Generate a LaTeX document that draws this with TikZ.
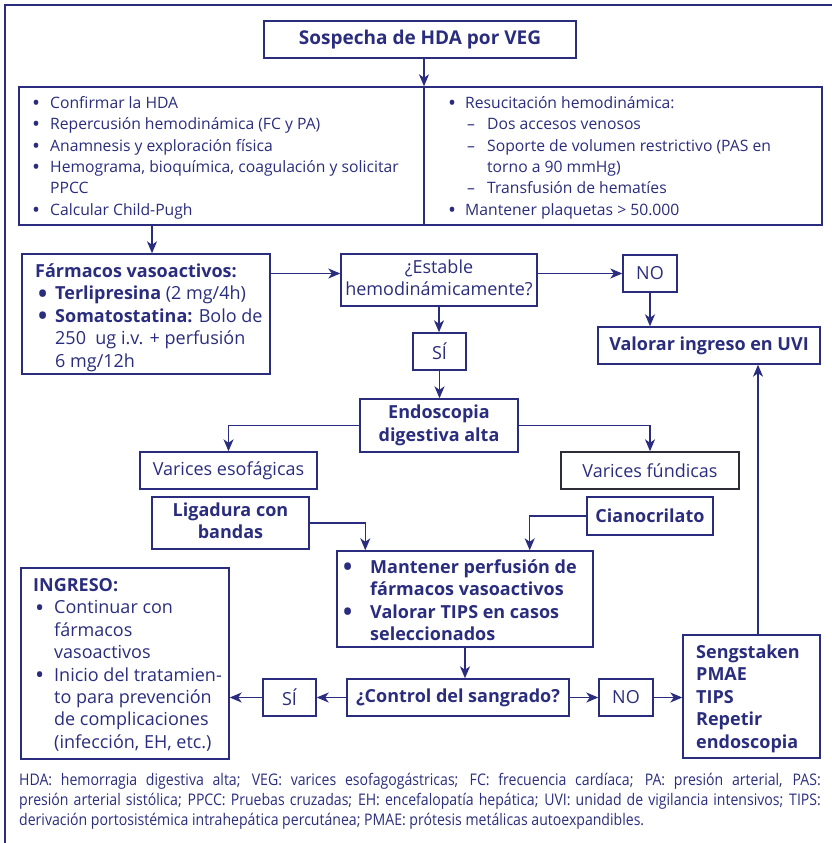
\documentclass[tikz,border=0pt]{standalone}
\usepackage{fontspec}
\setmainfont{Open Sans}
\usepackage{graphicx}
\usetikzlibrary{arrows.meta,calc}
\definecolor{navy}{RGB}{42,45,125}
\definecolor{dgray}{RGB}{45,45,55}
\newcommand{\bdot}{\raisebox{-0.13em}{\scalebox{1.35}{\textbullet}}}
\newcommand{\bul}[1]{\makebox[#1][l]{\bdot}}
\newcommand{\ltab}[1]{\begin{tabular}[t]{@{}l@{}}#1\end{tabular}}
\newcommand{\ctab}[1]{\begin{tabular}{@{}c@{}}#1\end{tabular}}
\begin{document}
\begin{tikzpicture}[x=1pt,y=-1pt,
  box/.style={draw=navy, line width=1.4pt, inner sep=0pt, text=navy, align=center},
  arr/.style={draw=navy, line width=1.4pt, -{Stealth[length=12pt,width=10pt,inset=3.5pt]}},
  ln/.style={draw=navy, line width=1.4pt},
  txt/.style={inner sep=0pt, text=navy, anchor=base west, align=left},
  fS/.style={font=\fontsize{15.7}{21.3}\selectfont},
  fM/.style={font=\fontsize{18}{22.4}\selectfont},
  fB/.style={font=\fontsize{18}{22.4}\selectfont\bfseries},
  fT/.style={font=\fontsize{19}{23}\selectfont\bfseries},
]
\useasboundingbox (0,0) rectangle (832,843);
\draw[navy,line width=2.6pt] (5,843) -- (5,5) -- (832,5);

% boxes
\node[box,fT,minimum width=312pt,minimum height=37pt] (title) at (420,39.5) {Sospecha de HDA por VEG};
\node[box,minimum width=803pt,minimum height=138pt] (big) at (420.5,156) {};
\coordinate (div) at (424,156);
\coordinate (fax) at (152,156);
\node[box,minimum width=248pt,minimum height=120pt] (fa) at (146,314) {};
\node[box,fM,minimum width=196pt,minimum height=52pt] (est) at (439,280) {\ctab{¿Estable\\hemodinámicamente?}};
\node[box,fM,minimum width=54pt,minimum height=37pt] (no1) at (650,273.5) {NO};
\node[box,fB,minimum width=222pt,minimum height=37pt] (uvi) at (709,345.5) {Valorar ingreso en UVI};
\node[box,fM,minimum width=53pt,minimum height=37pt] (si1) at (439.5,351.5) {SÍ};
\node[box,fB,minimum width=158pt,minimum height=53pt] (endo) at (439,425.5) {\ctab{Endoscopia\\digestiva alta}};
\node[box,fM,minimum width=177pt,minimum height=37pt] (vesof) at (228.5,470.5) {Varices esofágicas};
\node[box,fM,draw=dgray,minimum width=178pt,minimum height=37pt] (vfund) at (650,470.5) {Varices fúndicas};
\node[box,fB,minimum width=157pt,minimum height=52pt] (lig) at (230.5,523) {\ctab{Ligadura con\\bandas}};
\node[box,fB,minimum width=126pt,minimum height=38pt] (cian) at (650,516) {Cianocrilato};
\node[box,minimum width=256pt,minimum height=96pt] (mant) at (465,599) {};
\node[box,fB,minimum width=222pt,minimum height=37pt] (ctrl) at (458,697.5) {¿Control del sangrado?};
\node[box,fM,minimum width=53pt,minimum height=37pt] (si2) at (289.5,697.5) {SÍ};
\node[box,fM,minimum width=54pt,minimum height=37pt] (no2) at (626,697.5) {NO};
\node[box,minimum width=208pt,minimum height=191pt] (ing) at (125,663.5) {};
\node[box,minimum width=137pt,minimum height=123pt] (seng) at (751.5,696.5) {};

% texts
\node[txt,fS] (tl) at (32,108.5) {\ltab{\bul{18pt}Confirmar la HDA\\
\bul{18pt}Repercusión hemodinámica (FC y PA)\\
\bul{18pt}Anamnesis y exploración física\\
\bul{18pt}Hemograma, bioquímica, coagulación y solicitar\\
\hspace*{18pt}PPCC\\
\bul{18pt}Calcular Child-Pugh}};
\node[txt,fS] (tr) at (448,108.5) {\ltab{\bul{17pt}Resucitación hemodinámica:\\
\hspace*{19pt}\makebox[20pt][l]{–}Dos accesos venosos\\
\hspace*{19pt}\makebox[20pt][l]{–}Soporte de volumen restrictivo (PAS en\\
\hspace*{39pt}torno a 90 mmHg)\\
\hspace*{19pt}\makebox[20pt][l]{–}Transfusión de hematíes\\
\bul{17pt}Mantener plaquetas > 50.000}};
\node[txt,fM] (fat) at (35,277.5) {\ltab{\textbf{Fármacos vasoactivos:}\\
\hspace*{3pt}\makebox[17pt][l]{\textbf{\bdot}}\textbf{Terlipresina} (2 mg/4h)\\
\hspace*{3pt}\makebox[17pt][l]{\textbf{\bdot}}\textbf{Somatostatina:} Bolo de\\
\hspace*{20pt}250\ \ ug i.v. + perfusión\\
\hspace*{20pt}6 mg/12h}};
\node[txt,fB] (mantt) at (343,573.5) {\ltab{\makebox[27pt][l]{\bdot}Mantener perfusión de\\
\hspace*{27pt}fármacos vasoactivos\\
\makebox[27pt][l]{\bdot}Valorar TIPS en casos\\
\hspace*{27pt}seleccionados}};
\node[txt,fM] (ingt) at (33,591.5) {\ltab{\textbf{INGRESO:}\\
\hspace*{2pt}\makebox[19pt][l]{\bdot}Continuar con\\
\hspace*{21pt}fármacos\\
\hspace*{21pt}vasoactivos\\
\hspace*{2pt}\makebox[19pt][l]{\bdot}Inicio del tratamien-\\
\hspace*{21pt}to para prevención\\
\hspace*{21pt}de complicaciones\\
\hspace*{21pt}(infección, EH, etc.)}};
\node[txt,fB] (sengt) at (696,658.5) {\ltab{Sengstaken\\PMAE\\TIPS\\Repetir\\endoscopia}};

% connectors
\draw[ln] (big.north -| div) -- (big.south -| div);
\draw[arr] (title.south -| div) -- (big.north -| div);
\draw[arr] (big.south -| fax) -- (fa.north -| fax);
\draw[arr] (fa.east |- no1.west) -- (est.west |- no1.west);
\draw[arr] (est.east |- no1.west) -- (no1.west);
\draw[arr] (no1.south) -- (uvi.north -| no1.south);
\draw[arr] (est.south) -- (est.south |- si1.north);
\draw[arr] (si1.south) -- (si1.south |- endo.north);
\draw[arr] (endo.west) -| (vesof.north);
\draw[arr] (endo.east) -| (vfund.north);
\draw[arr] (lig.east) -| ([xshift=29pt]mant.north west);
\draw[arr] (cian.west) -| ([xshift=-64pt]mant.north east);
\draw[arr] (mant.south) -- (mant.south |- ctrl.north);
\draw[arr] (ctrl.east) -- (no2.west);
\draw[arr] (no2.east) -- (no2.east -| seng.west);
\draw[arr] ([xshift=6.5pt]seng.north) -- ([xshift=6.5pt]seng.north |- uvi.south);
\draw[arr] (ctrl.west) -- (si2.east);
\draw[arr] (si2.west) -- (si2.west -| ing.east);

% footnote
\node[txt] (fn) at (19,785) {\scalebox{0.88}[1]{\fontsize{16}{20.4}\selectfont\ltab{\makebox[911pt][s]{HDA: hemorragia digestiva alta; VEG: varices esofagogástricas; FC: frecuencia cardíaca; PA: presión arterial, PAS:}\\
\makebox[911pt][s]{presión arterial sistólica; PPCC: Pruebas cruzadas; EH: encefalopatía hepática; UVI: unidad de vigilancia intensivos; TIPS:}\\
derivación portosistémica intrahepática percutánea; PMAE: prótesis metálicas autoexpandibles.}}};
\end{tikzpicture}
\end{document}
